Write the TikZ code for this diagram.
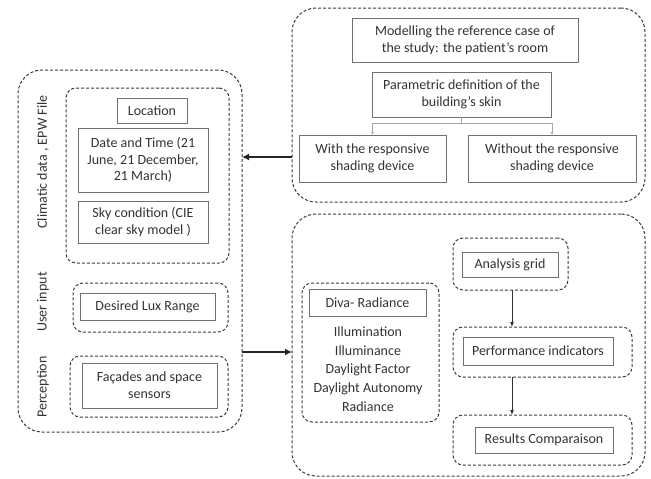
\documentclass[tikz,border=0pt]{standalone}
\usepackage{fontspec}
\setmainfont{Carlito}
\usetikzlibrary{arrows.meta}
\definecolor{txt}{HTML}{333333}
\definecolor{bord}{HTML}{707070}
\definecolor{dsh}{HTML}{3C3C3C}
\tikzset{
  solidbox/.style={draw=bord, line width=1pt, inner sep=0pt, outer sep=0pt, align=center, text=txt, font=\fontsize{14}{16.8}\selectfont},
  dashbox/.style={draw=dsh, line width=1pt, dash pattern=on 3pt off 2pt, rounded corners=10pt, inner sep=0pt, outer sep=0pt},
  bigdash/.style={draw=dsh, line width=1pt, dash pattern=on 3pt off 2pt, rounded corners=24pt, inner sep=0pt, outer sep=0pt},
  sidelabel/.style={rotate=90, text=txt, font=\fontsize{14}{16.8}\selectfont},
  listtext/.style={text=txt, align=center, font=\fontsize{14}{18.8}\selectfont},
  thickarrow/.style={line width=2pt, -{Latex[length=7pt,width=7pt]}, color=black!85},
  thinarrow/.style={line width=0.8pt, -{Latex[length=5pt,width=4pt]}, color=black!80},
  lightline/.style={line width=0.7pt, color=black!35},
}
\newcommand\bx[7]{\node[#6, minimum width={#4pt-#2pt}, minimum height={#5pt-#3pt}] (#1) at ({(#2+#4)/2},{(#3+#5)/2}) {#7};}
\begin{document}
\begin{tikzpicture}[x=1pt,y=-1pt]
\useasboundingbox[fill=white] (0,0) rectangle (651,479);
% left group
\bx{leftgrp}{18}{70}{242}{432}{bigdash}{}
\bx{climgrp}{66}{88}{229}{263}{dashbox}{}
\bx{loc}{117}{98}{187}{123}{solidbox}{Location}
\bx{date}{78}{128}{208}{192}{solidbox}{Date and Time (21\\June, 21 December,\\21 March)}
\bx{sky}{78}{201}{208}{243}{solidbox}{Sky condition (CIE\\clear sky model )}
\bx{usergrp}{73}{283}{228}{332}{dashbox}{}
\bx{lux}{80}{293}{215}{320}{solidbox}{Desired Lux Range}
\bx{percgrp}{70}{356}{228}{417}{dashbox}{}
\bx{fac}{82}{363}{217}{408}{solidbox}{Façades and space\\sensors}
\node[sidelabel] (lclim) at (43,162) {Climatic data , EPW File};
\node[sidelabel] (luser) at (43,302) {User input};
\node[sidelabel] (lperc) at (43,387) {Perception};
% top right group
\bx{topgrp}{292}{8}{645}{202}{bigdash}{}
\bx{model}{352}{18}{578}{62}{solidbox}{Modelling the reference case of\\the study: the patient’s room}
\bx{param}{372}{72}{551}{117}{solidbox}{Parametric definition of the\\building’s skin}
\bx{with}{299}{135}{446}{182}{solidbox}{With the responsive\\shading device}
\bx{without}{468}{135}{636}{182}{solidbox}{Without the responsive\\shading device}
\draw[lightline] (param.south) -- ++(0,6) coordinate (junc);
\draw[lightline, -{Latex[length=3pt,width=3pt]}] (junc) -| (with.north);
\draw[lightline, -{Latex[length=3pt,width=3pt]}] (junc) -| (without.north);
% bottom right group
\bx{botgrp}{292}{214}{645}{476}{bigdash}{}
\bx{divagrp}{302}{283}{439}{422}{dashbox}{}
\bx{diva}{309}{289}{426}{316}{solidbox}{Diva- Radiance}
\node[listtext, anchor=north] (divalist) at (368,323) {Illumination\\Illuminance\\Daylight Factor\\Daylight Autonomy\\Radiance};
\bx{anagrp}{453}{238}{568}{290}{dashbox}{}
\bx{ana}{462}{252}{558}{277}{solidbox}{Analysis grid}
\bx{perfgrp}{453}{327}{632}{377}{dashbox}{}
\bx{perf}{463}{337}{613}{365}{solidbox}{Performance indicators}
\bx{resgrp}{453}{415}{632}{465}{dashbox}{}
\bx{res}{475}{427}{613}{453}{solidbox}{Results Comparaison}
\draw[thinarrow] ([xshift=1.5pt]anagrp.south) -- ([xshift=1.5pt]anagrp.south |- perfgrp.north);
\draw[thinarrow] ([xshift=1.5pt]anagrp.south |- perfgrp.south) -- ([xshift=1.5pt]anagrp.south |- resgrp.north);
% main arrows
\draw[thickarrow] (topgrp.west |- 0,157) -- (leftgrp.east |- 0,157);
\draw[thickarrow] (leftgrp.east |- 0,352) -- (botgrp.west |- 0,352);
\end{tikzpicture}
\end{document}
